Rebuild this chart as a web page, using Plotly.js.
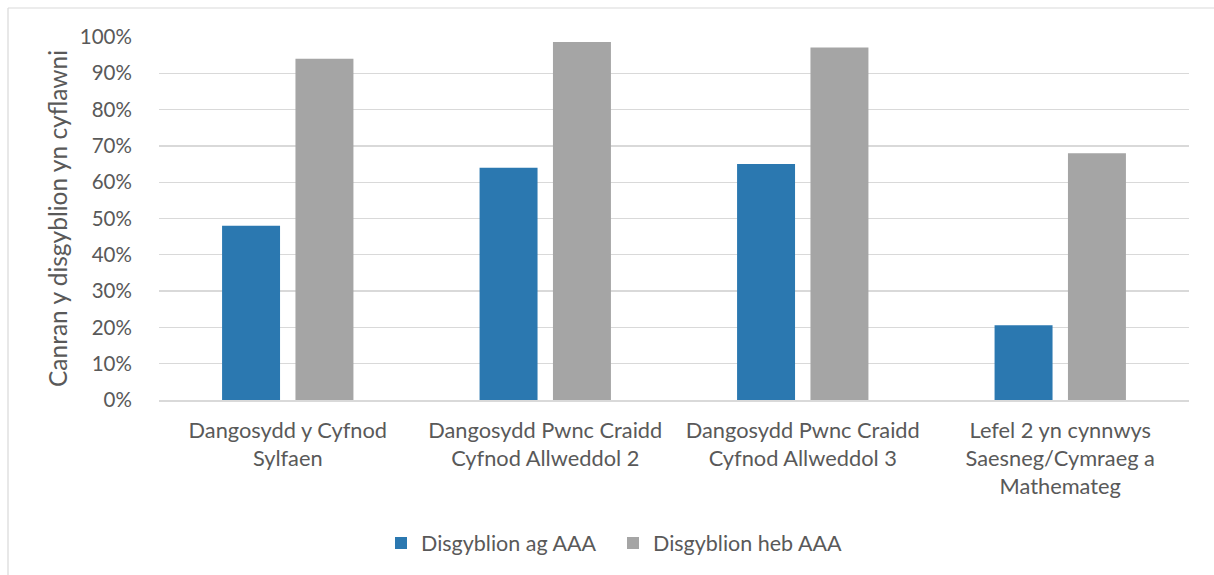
<!DOCTYPE html>
<html>
<head>
<meta charset="utf-8">
<script src="https://cdn.plot.ly/plotly-3.0.1.min.js"></script>
<style>html,body{margin:0;padding:0;background:#fff;}#chart{width:1214px;height:575px;}</style>
</head>
<body>
<div id="chart"></div>
<script>
const categories = [
  "Dangosydd y Cyfnod<br>Sylfaen",
  "Dangosydd Pwnc Craidd<br>Cyfnod Allweddol 2",
  "Dangosydd Pwnc Craidd<br>Cyfnod Allweddol 3",
  "Lefel 2 yn cynnwys<br>Saesneg/Cymraeg a<br>Mathemateg"
];
const seriesNames = ["Disgyblion ag AAA", "Disgyblion heb AAA"];
const withAAA = [48, 64, 65, 20.6];
const withoutAAA = [94, 98.6, 97.1, 68];
const yTickVals = [0,10,20,30,40,50,60,70,80,90,100];
const yTickText = ["0%","10%","20%","30%","40%","50%","60%","70%","80%","90%","100%"];
const yTitle = "Canran y disgyblion yn cyflawni";

const FONT = "Lato, 'Open Sans', sans-serif";
const TXT = "#595959";

const traces = [
  {type:"bar", name:seriesNames[0], x:categories, y:withAAA, marker:{color:"#2B78B0"}, hoverinfo:"y"},
  {type:"bar", name:seriesNames[1], x:categories, y:withoutAAA, marker:{color:"#A5A5A5"}, hoverinfo:"y"}
];

const L = 159, R = 25, T = 37, B = 175, W = 1214, H = 575;
const pw = W - L - R, ph = H - T - B;
const px = v => (v - L) / pw;
const py = v => (H - B - v) / ph;

const layout = {
  width: W, height: H,
  margin: {l:L, r:R, t:T, b:B, pad:0},
  paper_bgcolor: "#fff", plot_bgcolor: "#fff",
  font: {family: FONT, color: TXT, size: 21},
  barmode: "group",
  bargap: 0.43,
  bargroupgap: 0.21,
  showlegend: true,
  legend: {orientation:"h", x:px(381), xanchor:"left", y:py(543), yanchor:"middle",
           font:{size:21.5, color:TXT, family:FONT}, itemwidth:30, traceorder:"normal",
           entrywidth:187, entrywidthmode:"pixels"},
  xaxis: {
    type:"category",
    showgrid:false, zeroline:false,
    showline:true, linecolor:"#D9D9D9", linewidth:1.5,
    ticks:"outside", ticklen:10, tickcolor:"rgba(0,0,0,0)",
    tickfont:{size:21.8, color:TXT, family:FONT}
  },
  yaxis: {
    range:[0,100], tickvals:yTickVals, ticktext:yTickText,
    showgrid:true, gridcolor:"#D9D9D9", gridwidth:1.3,
    zeroline:false, showline:false,
    ticks:"outside", ticklen:22, tickcolor:"rgba(0,0,0,0)",
    tickfont:{size:20.5, color:TXT, family:FONT},
    title:{text:yTitle, font:{size:24.5, color:TXT, family:FONT}, standoff:5}
  },
  shapes: [
    {type:"line", xref:"paper", yref:"paper", x0:px(8), x1:px(8), y0:py(8), y1:py(580), line:{color:"#D9D9D9", width:1.2}},
    {type:"line", xref:"paper", yref:"paper", x0:px(8), x1:px(1220), y0:py(8), y1:py(8), line:{color:"#D9D9D9", width:1.2}}
  ]
};

Plotly.newPlot("chart", traces, layout, {staticPlot:true, displayModeBar:false});
</script>
</body>
</html>
